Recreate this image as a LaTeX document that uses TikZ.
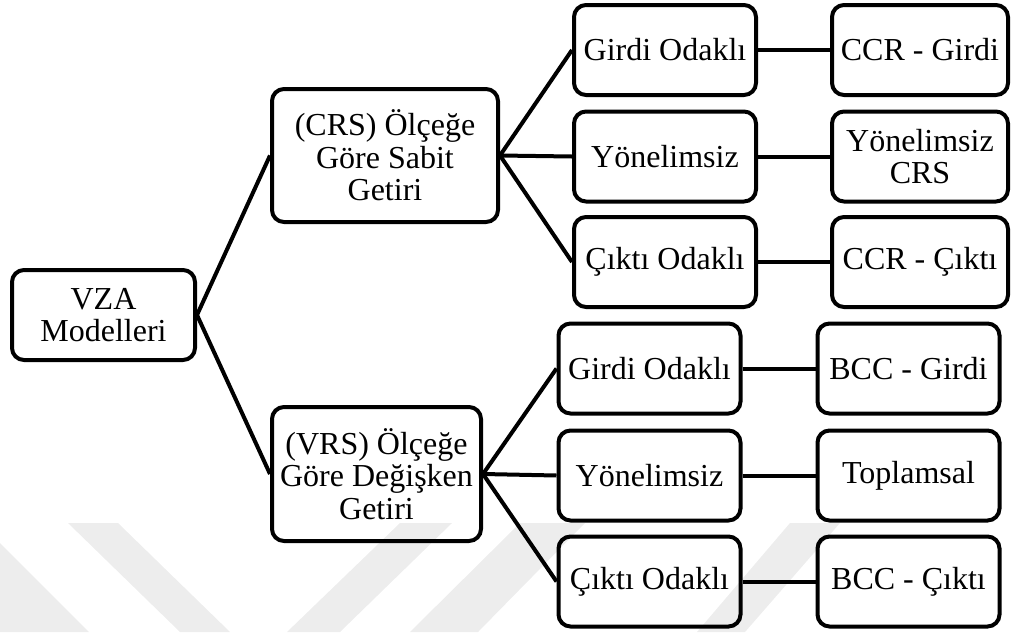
\documentclass[tikz,border=0pt]{standalone}
\usepackage{fontspec}
\setmainfont{Liberation Serif}
\usepackage{tikz}
\usetikzlibrary{positioning}
\definecolor{cWmark}{HTML}{EDEDED}
\tikzset{
  box/.style  = {draw=black, line width=2pt, rounded corners=6pt, align=center,
                 inner sep=0pt, font=\fontsize{16}{16.3}\selectfont},
  midbox/.style = {box, minimum width=91pt, minimum height=45pt},
  endbox/.style = {box, minimum width=88pt, minimum height=45pt},
  wire/.style = {black, line width=2pt},
  wmark/.style = {fill=cWmark},
}

\begin{document}
\begin{tikzpicture}[x=0.5pt, y=-0.5pt]
  \useasboundingbox (0,0) rectangle (1012,632);
  % faint watermark
  \fill[wmark] (0,543) -- (89,632) -- (0,632) -- cycle;
  \fill[wmark] (68,523) -- (118,523) -- (230,632) -- (180,632) -- cycle;
  \fill[wmark] (287,632) -- (340,632) -- (452,523) -- (400,523) -- cycle;
  \fill[wmark] (410,632) -- (478,632) -- (585,523) -- (520,523) -- cycle;
  \fill[wmark] (697,632) -- (745,632) -- (840,523) -- (790,523) -- cycle;
  % root and the two returns to scale
  \node[box, minimum width=91.5pt, minimum height=45pt] (vza) at (103.5,315) {VZA\\Modelleri};
  \node[box, minimum width=113pt, minimum height=66.5pt] (crs) at (385,155.5) {(CRS) Ölçeğe\\Göre Sabit\\Getiri};
  \node[box, minimum width=104.5pt, minimum height=67pt] (vrs) at (376.5,474) {(VRS) Ölçeğe\\Göre Değişken\\Getiri};
  % CRS branch
  \node[midbox] (crsIn)  at (665,50)    {Girdi Odaklı};
  \node[midbox] (crsNo)  at (665,156.5) {Yönelimsiz};
  \node[midbox] (crsOut) at (665,262)   {Çıktı Odaklı};
  \node[endbox] (ccrIn)  at (920,50)    {CCR - Girdi};
  \node[endbox] (crsMod) at (920,156.5) {Yönelimsiz\\CRS};
  \node[endbox] (ccrOut) at (920,262)   {CCR - Çıktı};
  % VRS branch
  \node[midbox] (vrsIn)  at (649.5,368.5) {Girdi Odaklı};
  \node[midbox] (vrsNo)  at (649.5,475.5) {Yönelimsiz};
  \node[midbox] (vrsOut) at (649.5,581.5) {Çıktı Odaklı};
  \node[midbox] (bccIn)  at (908.5,368.5) {BCC - Girdi};
  \node[midbox] (addMod) at (908.5,475.5) {Toplamsal};
  \node[midbox] (bccOut) at (908.5,581.5) {BCC - Çıktı};
  % links
  \draw[wire] (vza.east) -- (crs.west);
  \draw[wire] (vza.east) -- (vrs.west);
  \foreach \a/\b in {crs/crsIn, crs/crsNo, crs/crsOut, vrs/vrsIn, vrs/vrsNo, vrs/vrsOut}
    \draw[wire] (\a.east) -- (\b.west);
  \draw[wire] (crsIn) -- (ccrIn);
  \draw[wire] (crsNo) -- (crsMod);
  \draw[wire] (crsOut) -- (ccrOut);
  \draw[wire] (vrsIn) -- (bccIn);
  \draw[wire] (vrsNo) -- (addMod);
  \draw[wire] (vrsOut) -- (bccOut);
\end{tikzpicture}
\end{document}
